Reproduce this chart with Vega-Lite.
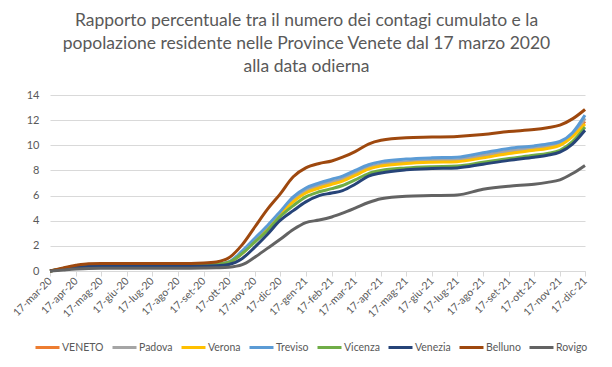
{
  "$schema": "https://vega.github.io/schema/vega-lite/v6.json",
  "width": 535,
  "height": 176,
  "autosize": {"type": "none"},
  "padding": {"left": 50, "top": 95, "right": 27, "bottom": 96},
  "background": "white",
  "title": {
    "text": ["Rapporto percentuale tra il numero dei contagi cumulato e la", "popolazione residente nelle Province Venete dal 17 marzo 2020", "alla data odierna"],
    "font": "Lato", "fontSize": 17.5, "fontWeight": "normal", "color": "#595959",
    "lineHeight": 23, "anchor": "middle", "offset": 14, "dx": -11
  },
  "data": {"values": [
    {"d": "2020-03-17", "VENETO": 0, "Padova": 0, "Verona": 0, "Treviso": 0, "Vicenza": 0, "Venezia": 0, "Belluno": 0, "Rovigo": 0},
    {"d": "2020-04-02", "VENETO": 0.15, "Padova": 0.16, "Verona": 0.15, "Treviso": 0.18, "Vicenza": 0.2, "Venezia": 0.15, "Belluno": 0.25, "Rovigo": 0.08},
    {"d": "2020-04-17", "VENETO": 0.31, "Padova": 0.32, "Verona": 0.3, "Treviso": 0.35, "Vicenza": 0.4, "Venezia": 0.3, "Belluno": 0.45, "Rovigo": 0.15},
    {"d": "2020-05-02", "VENETO": 0.38, "Padova": 0.4, "Verona": 0.36, "Treviso": 0.42, "Vicenza": 0.5, "Venezia": 0.36, "Belluno": 0.58, "Rovigo": 0.2},
    {"d": "2020-05-17", "VENETO": 0.4, "Padova": 0.42, "Verona": 0.38, "Treviso": 0.45, "Vicenza": 0.52, "Venezia": 0.38, "Belluno": 0.6, "Rovigo": 0.22},
    {"d": "2020-06-17", "VENETO": 0.4, "Padova": 0.42, "Verona": 0.38, "Treviso": 0.45, "Vicenza": 0.52, "Venezia": 0.38, "Belluno": 0.6, "Rovigo": 0.22},
    {"d": "2020-07-17", "VENETO": 0.4, "Padova": 0.42, "Verona": 0.38, "Treviso": 0.45, "Vicenza": 0.52, "Venezia": 0.38, "Belluno": 0.6, "Rovigo": 0.22},
    {"d": "2020-08-17", "VENETO": 0.4, "Padova": 0.42, "Verona": 0.38, "Treviso": 0.45, "Vicenza": 0.52, "Venezia": 0.38, "Belluno": 0.6, "Rovigo": 0.22},
    {"d": "2020-09-17", "VENETO": 0.42, "Padova": 0.44, "Verona": 0.4, "Treviso": 0.47, "Vicenza": 0.52, "Venezia": 0.4, "Belluno": 0.64, "Rovigo": 0.24},
    {"d": "2020-10-02", "VENETO": 0.47, "Padova": 0.5, "Verona": 0.45, "Treviso": 0.52, "Vicenza": 0.55, "Venezia": 0.42, "Belluno": 0.72, "Rovigo": 0.26},
    {"d": "2020-10-17", "VENETO": 0.67, "Padova": 0.7, "Verona": 0.65, "Treviso": 0.72, "Vicenza": 0.7, "Venezia": 0.52, "Belluno": 1.05, "Rovigo": 0.3},
    {"d": "2020-11-02", "VENETO": 1.45, "Padova": 1.5, "Verona": 1.4, "Treviso": 1.6, "Vicenza": 1.4, "Venezia": 1.0, "Belluno": 2.1, "Rovigo": 0.5},
    {"d": "2020-11-17", "VENETO": 2.45, "Padova": 2.5, "Verona": 2.4, "Treviso": 2.6, "Vicenza": 2.3, "Venezia": 1.9, "Belluno": 3.5, "Rovigo": 1.1},
    {"d": "2020-12-02", "VENETO": 3.45, "Padova": 3.5, "Verona": 3.4, "Treviso": 3.6, "Vicenza": 3.2, "Venezia": 2.9, "Belluno": 4.9, "Rovigo": 1.8},
    {"d": "2020-12-17", "VENETO": 4.55, "Padova": 4.6, "Verona": 4.5, "Treviso": 4.7, "Vicenza": 4.3, "Venezia": 4.0, "Belluno": 6.1, "Rovigo": 2.5},
    {"d": "2021-01-02", "VENETO": 5.6, "Padova": 5.7, "Verona": 5.5, "Treviso": 5.9, "Vicenza": 5.2, "Venezia": 4.8, "Belluno": 7.5, "Rovigo": 3.3},
    {"d": "2021-01-17", "VENETO": 6.3, "Padova": 6.4, "Verona": 6.2, "Treviso": 6.6, "Vicenza": 5.9, "Venezia": 5.5, "Belluno": 8.2, "Rovigo": 3.85},
    {"d": "2021-02-02", "VENETO": 6.7, "Padova": 6.8, "Verona": 6.6, "Treviso": 7.0, "Vicenza": 6.3, "Venezia": 6.0, "Belluno": 8.55, "Rovigo": 4.05},
    {"d": "2021-02-17", "VENETO": 7.0, "Padova": 7.1, "Verona": 6.9, "Treviso": 7.3, "Vicenza": 6.55, "Venezia": 6.2, "Belluno": 8.75, "Rovigo": 4.3},
    {"d": "2021-03-02", "VENETO": 7.25, "Padova": 7.35, "Verona": 7.15, "Treviso": 7.55, "Vicenza": 6.8, "Venezia": 6.4, "Belluno": 9.05, "Rovigo": 4.6},
    {"d": "2021-03-17", "VENETO": 7.7, "Padova": 7.8, "Verona": 7.6, "Treviso": 8.0, "Vicenza": 7.25, "Venezia": 6.9, "Belluno": 9.5, "Rovigo": 5.0},
    {"d": "2021-04-02", "VENETO": 8.15, "Padova": 8.25, "Verona": 8.1, "Treviso": 8.45, "Vicenza": 7.75, "Venezia": 7.55, "Belluno": 10.1, "Rovigo": 5.45},
    {"d": "2021-04-17", "VENETO": 8.42, "Padova": 8.5, "Verona": 8.35, "Treviso": 8.7, "Vicenza": 8.0, "Venezia": 7.8, "Belluno": 10.4, "Rovigo": 5.75},
    {"d": "2021-05-17", "VENETO": 8.62, "Padova": 8.7, "Verona": 8.55, "Treviso": 8.9, "Vicenza": 8.2, "Venezia": 8.05, "Belluno": 10.6, "Rovigo": 5.95},
    {"d": "2021-06-17", "VENETO": 8.72, "Padova": 8.8, "Verona": 8.65, "Treviso": 9.0, "Vicenza": 8.3, "Venezia": 8.15, "Belluno": 10.65, "Rovigo": 6.0},
    {"d": "2021-07-17", "VENETO": 8.78, "Padova": 8.85, "Verona": 8.7, "Treviso": 9.05, "Vicenza": 8.35, "Venezia": 8.2, "Belluno": 10.7, "Rovigo": 6.05},
    {"d": "2021-08-17", "VENETO": 9.1, "Padova": 9.2, "Verona": 9.0, "Treviso": 9.4, "Vicenza": 8.65, "Venezia": 8.5, "Belluno": 10.85, "Rovigo": 6.5},
    {"d": "2021-09-17", "VENETO": 9.45, "Padova": 9.55, "Verona": 9.35, "Treviso": 9.75, "Vicenza": 8.95, "Venezia": 8.8, "Belluno": 11.1, "Rovigo": 6.75},
    {"d": "2021-10-17", "VENETO": 9.68, "Padova": 9.75, "Verona": 9.6, "Treviso": 9.95, "Vicenza": 9.2, "Venezia": 9.05, "Belluno": 11.25, "Rovigo": 6.9},
    {"d": "2021-11-02", "VENETO": 9.82, "Padova": 9.9, "Verona": 9.75, "Treviso": 10.1, "Vicenza": 9.35, "Venezia": 9.2, "Belluno": 11.4, "Rovigo": 7.05},
    {"d": "2021-11-17", "VENETO": 10.08, "Padova": 10.15, "Verona": 10.0, "Treviso": 10.3, "Vicenza": 9.6, "Venezia": 9.45, "Belluno": 11.6, "Rovigo": 7.25},
    {"d": "2021-12-02", "VENETO": 10.78, "Padova": 10.85, "Verona": 10.7, "Treviso": 11.0, "Vicenza": 10.3, "Venezia": 10.1, "Belluno": 12.1, "Rovigo": 7.75},
    {"d": "2021-12-17", "VENETO": 11.9, "Padova": 12.15, "Verona": 11.7, "Treviso": 12.4, "Vicenza": 11.45, "Venezia": 11.2, "Belluno": 12.85, "Rovigo": 8.4}
  ]},
  "transform": [
    {"fold": ["VENETO", "Padova", "Verona", "Treviso", "Vicenza", "Venezia", "Belluno", "Rovigo"], "as": ["serie", "valore"]}
  ],
  "mark": {"type": "line", "strokeWidth": 3, "interpolate": "monotone"},
  "encoding": {
    "x": {
      "field": "d", "type": "temporal",
      "scale": {"type": "utc", "nice": false, "domain": [{"year": 2020, "month": 3, "date": 17, "utc": true}, {"year": 2021, "month": 12, "date": 17, "utc": true}]},
      "axis": {
        "title": null,
        "grid": false,
        "values": [
          {"year": 2020, "month": 3, "date": 17, "utc": true},
          {"year": 2020, "month": 4, "date": 17, "utc": true},
          {"year": 2020, "month": 5, "date": 17, "utc": true},
          {"year": 2020, "month": 6, "date": 17, "utc": true},
          {"year": 2020, "month": 7, "date": 17, "utc": true},
          {"year": 2020, "month": 8, "date": 17, "utc": true},
          {"year": 2020, "month": 9, "date": 17, "utc": true},
          {"year": 2020, "month": 10, "date": 17, "utc": true},
          {"year": 2020, "month": 11, "date": 17, "utc": true},
          {"year": 2020, "month": 12, "date": 17, "utc": true},
          {"year": 2021, "month": 1, "date": 17, "utc": true},
          {"year": 2021, "month": 2, "date": 17, "utc": true},
          {"year": 2021, "month": 3, "date": 17, "utc": true},
          {"year": 2021, "month": 4, "date": 17, "utc": true},
          {"year": 2021, "month": 5, "date": 17, "utc": true},
          {"year": 2021, "month": 6, "date": 17, "utc": true},
          {"year": 2021, "month": 7, "date": 17, "utc": true},
          {"year": 2021, "month": 8, "date": 17, "utc": true},
          {"year": 2021, "month": 9, "date": 17, "utc": true},
          {"year": 2021, "month": 10, "date": 17, "utc": true},
          {"year": 2021, "month": 11, "date": 17, "utc": true},
          {"year": 2021, "month": 12, "date": 17, "utc": true}
        ],
        "labelExpr": "'17-' + ['gen','feb','mar','apr','mag','giu','lug','ago','set','ott','nov','dic'][utcmonth(datum.value)] + '-' + utcFormat(datum.value, '%y')",
        "labelAngle": -45,
        "labelAlign": "right",
        "labelBaseline": "middle",
        "labelFont": "Lato",
        "labelFontSize": 10.5,
        "labelColor": "#595959",
        "labelPadding": 3,
        "labelOverlap": false,
        "labelFlush": false,
        "labelBound": false,
        "domainColor": "#D9D9D9",
        "tickColor": "#D9D9D9",
        "tickSize": 5
      }
    },
    "y": {
      "field": "valore", "type": "quantitative",
      "scale": {"domain": [0, 14], "nice": false},
      "axis": {
        "title": null,
        "values": [0, 2, 4, 6, 8, 10, 12, 14],
        "domain": false,
        "ticks": false,
        "gridColor": "#D9D9D9",
        "labelFont": "Lato",
        "labelFontSize": 11,
        "labelColor": "#595959",
        "labelPadding": 11
      }
    },
    "color": {
      "field": "serie", "type": "nominal",
      "scale": {
        "domain": ["VENETO", "Padova", "Verona", "Treviso", "Vicenza", "Venezia", "Belluno", "Rovigo"],
        "range": ["#ED7D31", "#A5A5A5", "#FFC000", "#5B9BD5", "#70AD47", "#264478", "#9E480E", "#636363"]
      },
      "legend": {
        "title": null,
        "orient": "none",
        "legendX": -16,
        "legendY": 239,
        "direction": "horizontal",
        "gridAlign": "none",
        "symbolType": "stroke",
        "symbolStrokeWidth": 3,
        "symbolSize": 576,
        "labelFont": "Lato",
        "labelFontSize": 10.5,
        "labelColor": "#595959",
        "labelOffset": 1,
        "columnPadding": 2
      }
    }
  },
  "config": {"view": {"stroke": null}}
}
